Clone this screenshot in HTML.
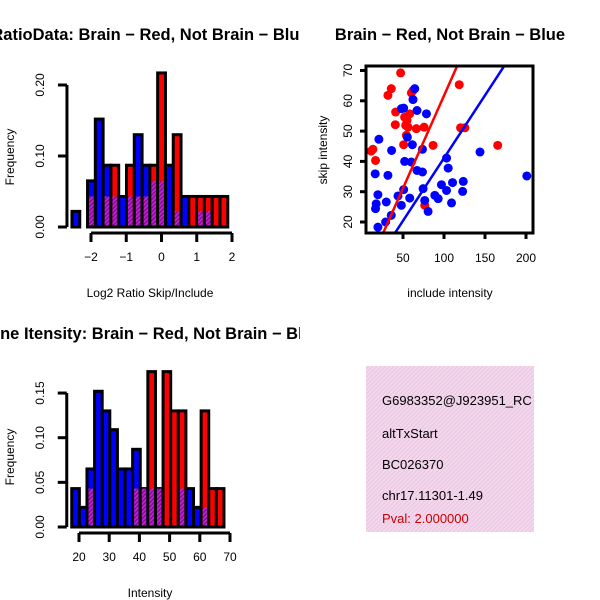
<!DOCTYPE html>
<html><head><meta charset="utf-8"><style>
html,body{margin:0;padding:0;background:#fff}
svg{display:block;font-family:"Liberation Sans",Arial,sans-serif}
</style></head><body>
<svg id="c" width="600" height="600" viewBox="0 0 600 600" xmlns="http://www.w3.org/2000/svg">
<defs>
<clipPath id="lc"><rect x="0" y="0" width="300" height="600"/></clipPath>
<clipPath id="sc"><rect x="366" y="66" width="167" height="167"/></clipPath>
<clipPath id="lc2"><rect x="366" y="366" width="168" height="166"/></clipPath>
<pattern id="hatch" width="3" height="3" patternUnits="userSpaceOnUse" patternTransform="rotate(45)">
<rect width="3" height="3" fill="#9900aa"/><rect width="1.5" height="3" fill="#b030c0"/></pattern>
<pattern id="pink" width="3" height="3" patternUnits="userSpaceOnUse" patternTransform="rotate(45)">
<rect width="3" height="3" fill="#f4d6ee"/><rect width="1" height="3" fill="#e6c8de"/></pattern>
</defs>
<g id="h1"></g>
<g id="sp"></g>
<g id="h2"></g>
<g>
<rect x="366" y="366" width="168" height="166" fill="url(#pink)"/>
<g font-size="13" clip-path="url(#lc2)">
<text x="382" y="405">G6983352@J923951_RC</text>
<text x="382" y="438">altTxStart</text>
<text x="382" y="469">BC026370</text>
<text x="382" y="500">chr17.11301-1.49</text>
<text x="382" y="523" fill="#cc0000">Pval: 2.000000</text>
</g>
</g>
</svg>
<script>
// ---- Histogram 1 (log2 ratio) ----
const h1Blue = [0.022,0,0.065,0.152,0.087,0.043,0.043,0.043,0.130,0.087,0.065,0.065,0.087,0.022,0.043,0,0.022,0.022,0,0];
const h1Red  = [0,0,0.043,0,0.043,0.087,0,0.087,0.043,0.043,0.087,0.217,0,0.130,0,0.043,0.043,0.043,0.043,0.043];
const h1XTicks = [-2,-1,0,1,2];
const h1YTicks = [0,0.10,0.20];
const h1YLabels = ["0.00","0.10","0.20"];
// ---- Histogram 2 (intensity) ----
const h2Blue = [0.043,0.022,0.065,0.152,0.130,0.109,0.065,0.065,0.087,0.043,0.043,0.043,0,0,0.043,0.043,0.022,0.022,0,0];
const h2Red  = [0,0,0.043,0,0,0,0,0,0.043,0.043,0.174,0.043,0.174,0.130,0.130,0,0,0.130,0.043,0.043];
const h2XTicks = [20,30,40,50,60,70];
const h2YTicks = [0,0.05,0.10,0.15];
const h2YLabels = ["0.00","0.05","0.10","0.15"];
// ---- Scatter ----
const redX = [47.1,31.6,35.7,41.0,62.2,60.2,52.0,58.2,54.9,53.3,40.6,56.1,66.3,75.7,54.1,50.8,86.7,13.3,11.2,16.5,118.6,120.2,125.5,165.5,76.5];
const redY = [69.2,61.8,64.0,56.3,63.4,62.6,54.6,55.7,53.5,51.9,52.1,51.3,50.8,51.3,48.6,45.5,45.3,44.0,43.4,40.3,65.3,51.1,51.1,45.3,25.5];
const blueX = [48.0,50.8,64.3,62.2,67.1,78.6,55.3,61.4,20.6,36.1,73.7,16.1,31.6,52.0,60.2,67.1,73.7,103.1,105.1,96.9,110.4,103.1,123.5,122.7,74.5,50.8,43.9,58.2,48.0,76.5,80.6,19.4,17.3,16.5,29.6,109.2,88.8,92.9,35.7,28.8,19.4,143.9,201];
const blueY = [57.4,57.6,64.0,60.4,56.8,55.7,48.0,45.5,47.3,43.6,44.0,35.9,35.4,40.0,39.8,37.0,36.5,41.1,37.8,32.3,33.0,30.4,33.4,30.1,31.0,30.7,28.6,27.9,25.5,27.1,23.5,29.0,26.0,24.4,26.6,26.3,28.8,27.7,22.2,20.0,18.3,43.1,35.2];
const redFit = [0.6,0.611];
const blueFit = [-0.3,0.414];
const spXTicks = [50,100,150,200];
const spYTicks = [20,30,40,50,60,70];

const NS="http://www.w3.org/2000/svg";
function mk(p,tag,at){const e=document.createElementNS(NS,tag);for(const k in at)e.setAttribute(k,at[k]);p.appendChild(e);return e;}

function hist(g, blue, red, start, width, xs, ys, xTicks, yTicks, yLabels, xlab, title, titleY){
  const X=v=>xs[0]+(v-xs[1])*xs[2], Y=v=>ys[0]-v*ys[1];
  const lw=3;
  for(let i=0;i<blue.length;i++){
    const x0=X(start+i*width), x1=X(start+(i+1)*width);
    const b=blue[i], r=red[i], hi=Math.max(b,r), lo=Math.min(b,r);
    if(hi<=0) continue;
    const top=mk(g,'rect',{x:x0,y:Y(hi),width:x1-x0,height:Y(0)-Y(hi),fill:b>=r?'#0000ff':'#ff0000',stroke:'#000','stroke-width':lw});
    
    
    if(lo>0){
      const ov=mk(g,'rect',{x:x0+1.5,y:Y(lo),width:x1-x0-3,height:Y(0)-Y(lo)-1.5,fill:'url(#hatch)'});
      
      
    }
  }
  const axY=Y(0)+6;
  const ax=mk(g,'line',{x1:X(xTicks[0]),x2:X(xTicks[xTicks.length-1]),y1:axY,y2:axY,stroke:'#000','stroke-width':3});
  
  
  xTicks.forEach(t=>{
    mk(g,'line',{x1:X(t),x2:X(t),y1:axY,y2:axY+9,stroke:'#000','stroke-width':3});
    const tx=mk(g,'text',{x:X(t),y:axY+28,'font-size':12,'text-anchor':'middle'});
    tx.textContent=String(t).replace('-','\u2212');
    
    
  });
  const yx=X(start)-5;
  const ya=mk(g,'line',{x1:yx,x2:yx,y1:Y(0),y2:Y(yTicks[yTicks.length-1]),stroke:'#000','stroke-width':3});
  
  
  yTicks.forEach((t,i)=>{
    mk(g,'line',{x1:yx-9,x2:yx,y1:Y(t),y2:Y(t),stroke:'#000','stroke-width':3});
    const tx=mk(g,'text',{x:0,y:0,'font-size':12,'text-anchor':'middle',transform:`translate(${yx-23},${Y(t)}) rotate(-90)`});
    tx.textContent=yLabels[i];
    
    
  });
  const yl=mk(g,'text',{x:0,y:0,'font-size':12,'text-anchor':'middle',transform:`translate(14,${Y(0)-70}) rotate(-90)`});
  yl.textContent='Frequency';
  
  
  const xl=mk(g,'text',{x:150,y:Y(0)+70,'font-size':12,'text-anchor':'middle'});
  xl.textContent=xlab;
  
  
  const tt=mk(g,'text',{x:150,y:titleY,'font-size':16.5,'font-weight':'bold','text-anchor':'middle','clip-path':'url(#lc)'});
  tt.textContent=title;
  
  
}
hist(document.getElementById('h1'),h1Blue,h1Red,-2.54,0.221,[91,-2,35.25],[227,710],h1XTicks,h1YTicks,h1YLabels,'Log2 Ratio Skip/Include','RatioData: Brain \u2212 Red, Not Brain \u2212 Blue',40);
hist(document.getElementById('h2'),h2Blue,h2Red,17.6,2.52,[79,20,3.02],[527,893],h2XTicks,h2YTicks,h2YLabels,'Intensity','Gene Itensity: Brain \u2212 Red, Not Brain \u2212 Blue',339);

// scatter
(function(){
  const g=document.getElementById('sp');
  const X=v=>403+(v-50)*0.82, Y=v=>222-(v-20)*3.03;
  const pts=mk(g,'g',{'clip-path':'url(#sc)'});
  redX.forEach((x,i)=>{const c=mk(pts,'circle',{cx:X(x),cy:Y(redY[i]),r:4.5,fill:'#ff0000'});
    
    });
  blueX.forEach((x,i)=>{const c=mk(pts,'circle',{cx:X(x),cy:Y(blueY[i]),r:4.5,fill:'#0000ff'});
    
    });
  [[redFit,'#ff0000','red-fit-line'],[blueFit,'#0000ff','blue-fit-line']].forEach(([f,col,n])=>{
    const l=mk(pts,'line',{x1:X(0),y1:Y(f[0]),x2:X(250),y2:Y(f[0]+f[1]*250),stroke:col,'stroke-width':2.5});
    
    
  });
  const fr=mk(g,'rect',{x:366,y:66,width:167,height:167,fill:'none',stroke:'#000','stroke-width':3});
  
  
  spXTicks.forEach(t=>{
    mk(g,'line',{x1:X(t),x2:X(t),y1:233,y2:239,stroke:'#000','stroke-width':3});
    const tx=mk(g,'text',{x:X(t),y:262,'font-size':12,'text-anchor':'middle'});tx.textContent=t;
    
    
  });
  spYTicks.forEach(t=>{
    mk(g,'line',{x1:360,x2:366,y1:Y(t),y2:Y(t),stroke:'#000','stroke-width':3});
    const tx=mk(g,'text',{x:0,y:0,'font-size':12,'text-anchor':'middle',transform:`translate(352,${Y(t)}) rotate(-90)`});tx.textContent=t;
    
    
  });
  const xl=mk(g,'text',{x:450,y:297,'font-size':12,'text-anchor':'middle'});xl.textContent='include intensity';
  
  
  const yl=mk(g,'text',{x:0,y:0,'font-size':12,'text-anchor':'middle',transform:'translate(327,150) rotate(-90)'});yl.textContent='skip intensity';
  
  
  const tt=mk(g,'text',{x:450,y:40,'font-size':16.5,'font-weight':'bold','text-anchor':'middle'});tt.textContent='Brain \u2212 Red, Not Brain \u2212 Blue';
  
  
})();
</script>
</body></html>
